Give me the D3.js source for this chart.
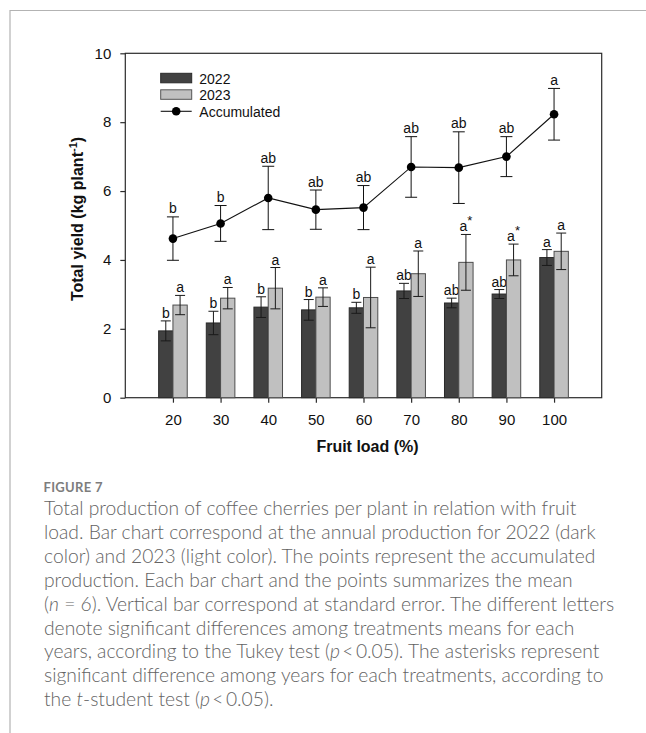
<!DOCTYPE html>
<html>
<head>
<meta charset="utf-8">
<script src="https://cdn.jsdelivr.net/npm/d3@7"></script>
<style>
  html, body { margin: 0; padding: 0; background: #fff; }
  svg { display: block; }
</style>
</head>
<body>
<script>
// Fruit load treatments (%)
const loads = [20, 30, 40, 50, 60, 70, 80, 90, 100];

// Annual yield per plant (kg) with standard errors
const yield2022 = [1.94, 2.17, 2.63, 2.55, 2.61, 3.10, 2.75, 3.01, 4.07];
const se2022    = [0.29, 0.34, 0.30, 0.30, 0.16, 0.22, 0.14, 0.13, 0.23];
const yield2023 = [2.69, 2.89, 3.18, 2.92, 2.91, 3.60, 3.93, 4.00, 4.25];
const se2023    = [0.28, 0.31, 0.60, 0.27, 0.88, 0.66, 0.81, 0.46, 0.53];

// Accumulated yield (2022 + 2023)
const accumulated = [4.62, 5.06, 5.80, 5.46, 5.52, 6.70, 6.68, 7.00, 8.23];
const seAccum     = [0.63, 0.52, 0.92, 0.57, 0.64, 0.88, 1.04, 0.58, 0.75];

// Tukey letters and t-test asterisks
const letters2022  = ["b", "b", "b", "b", "b", "ab", "ab", "ab", "a"];
const letters2023  = ["a", "a", "a", "a", "a", "a", "a", "a", "a"];
const stars2023    = [false, false, false, false, false, false, true, true, false];
const lettersAccum = ["b", "b", "ab", "ab", "ab", "ab", "ab", "ab", "a"];

const yTicks = [0, 2, 4, 6, 8, 10];
const seriesNames = ["2022", "2023", "Accumulated"];

const captionTitle = "FIGURE 7";
// Each caption line: list of [text, italic]
const captionLines = [
  [["Total production of coffee cherries per plant in relation with fruit", false]],
  [["load. Bar chart correspond at the annual production for 2022 (dark", false]],
  [["color) and 2023 (light color). The points represent the accumulated", false]],
  [["production. Each bar chart and the points summarizes the mean", false]],
  [["(", false], ["n", true], [" = 6). Vertical bar correspond at standard error. The different letters", false]],
  [["denote significant differences among treatments means for each", false]],
  [["years, according to the Tukey test (", false], ["p", true], ["\u2009<\u20090.05). The asterisks represent", false]],
  [["significant difference among years for each treatments, according to", false]],
  [["the ", false], ["t", true], ["-student test (", false], ["p", true], ["\u2009<\u20090.05).", false]]
];

const W = 646, H = 733;
const plot = { left: 125.3, right: 601.7, top: 53.3, bottom: 397.7 };
const darkFill = "#414141", lightFill = "#c0c0c0", axisColor = "#2b2b2b";
const chartFont = "'Liberation Sans', Arial, sans-serif";

const svg = d3.select("body").append("svg")
  .attr("width", W).attr("height", H)
  .attr("viewBox", `0 0 ${W} ${H}`);

svg.append("rect").attr("width", W).attr("height", H).attr("fill", "#fff");

// Page frame (top and left rule)
svg.append("line").attr("x1", 10).attr("x2", W).attr("y1", 10.5).attr("y2", 10.5)
  .attr("stroke", "#b3b3b3").attr("stroke-width", 1.2);
svg.append("line").attr("x1", 10).attr("x2", 10).attr("y1", 10).attr("y2", H)
  .attr("stroke", "#b3b3b3").attr("stroke-width", 1.2);

const x = d3.scaleLinear().domain([10, 110]).range([plot.left, plot.right]);
const y = d3.scaleLinear().domain([0, 10]).range([plot.bottom, plot.top]);
const barW = x(13) - x(10);
const inner = d3.scaleBand().domain(["2022", "2023"]).range([-barW, barW]);

const g = svg.append("g");

// Plot frame
g.append("rect")
  .attr("x", plot.left).attr("y", plot.top)
  .attr("width", plot.right - plot.left).attr("height", plot.bottom - plot.top)
  .attr("fill", "none").attr("stroke", axisColor).attr("stroke-width", 1.2);

// Axes
const yAxis = d3.axisLeft(y).tickValues(yTicks).tickSize(5).tickPadding(9).tickFormat(d3.format("d"));
const xAxis = d3.axisBottom(x).tickValues(loads).tickSize(5).tickPadding(11.5).tickFormat(d3.format("d"));

const gy = g.append("g").attr("transform", `translate(${plot.left},0)`).call(yAxis);
const gx = g.append("g").attr("transform", `translate(0,${plot.bottom})`).call(xAxis);
[gx, gy].forEach(a => {
  a.select(".domain").remove();
  a.selectAll(".tick line").attr("stroke", axisColor).attr("stroke-width", 1.2);
  a.selectAll(".tick text").attr("fill", "#111").attr("font-family", chartFont).attr("font-size", 15);
});

// Bars
const rows = loads.map((L, i) => ({
  L, i,
  bars: [
    { key: "2022", v: yield2022[i], se: se2022[i], fill: darkFill, stroke: "#2a2a2a", letter: letters2022[i], star: false },
    { key: "2023", v: yield2023[i], se: se2023[i], fill: lightFill, stroke: "#4d4d4d", letter: letters2023[i], star: stars2023[i] }
  ]
}));

const groups = g.selectAll(".grp").data(rows).join("g").attr("class", "grp")
  .attr("transform", d => `translate(${x(d.L)},0)`);

const bar = groups.selectAll(".bar").data(d => d.bars).join("g").attr("class", "bar");

bar.append("rect")
  .attr("x", b => inner(b.key))
  .attr("y", b => y(b.v))
  .attr("width", inner.bandwidth())
  .attr("height", b => y(0) - y(b.v))
  .attr("fill", b => b.fill)
  .attr("stroke", b => b.stroke).attr("stroke-width", 1);

const capHalf = 5;
bar.each(function(b) {
  const el = d3.select(this);
  const cx = inner(b.key) + inner.bandwidth() / 2;
  el.append("line").attr("x1", cx).attr("x2", cx)
    .attr("y1", y(b.v + b.se)).attr("y2", y(b.v - b.se))
    .attr("stroke", "#1a1a1a").attr("stroke-width", 1);
  [b.v + b.se, b.v - b.se].forEach(v => {
    el.append("line").attr("x1", cx - capHalf).attr("x2", cx + capHalf)
      .attr("y1", y(v)).attr("y2", y(v))
      .attr("stroke", "#1a1a1a").attr("stroke-width", 1);
  });
  const t = el.append("text")
    .attr("x", cx).attr("y", y(b.v + b.se) - 3)
    .attr("text-anchor", "middle")
    .attr("font-family", chartFont).attr("font-size", 14).attr("fill", "#111")
    .text(b.letter);
  if (b.star) {
    t.append("tspan").attr("dy", -6).attr("font-size", 13).text("*");
  }
});

// Accumulated line with error bars
const accData = loads.map((L, i) => ({ L, v: accumulated[i], se: seAccum[i], letter: lettersAccum[i] }));
const line = d3.line().x(d => x(d.L)).y(d => y(d.v));

const acc = g.append("g");
acc.selectAll(".eb").data(accData).join("g").attr("class", "eb").each(function(d) {
  const el = d3.select(this);
  const cx = x(d.L);
  el.append("line").attr("x1", cx).attr("x2", cx)
    .attr("y1", y(d.v + d.se)).attr("y2", y(d.v - d.se))
    .attr("stroke", "#111").attr("stroke-width", 1);
  [d.v + d.se, d.v - d.se].forEach(v => {
    el.append("line").attr("x1", cx - 6).attr("x2", cx + 6)
      .attr("y1", y(v)).attr("y2", y(v))
      .attr("stroke", "#111").attr("stroke-width", 1);
  });
  el.append("text")
    .attr("x", cx).attr("y", y(d.v + d.se) - 3.5)
    .attr("text-anchor", "middle")
    .attr("font-family", chartFont).attr("font-size", 14).attr("fill", "#111")
    .text(d.letter);
});
acc.append("path").datum(accData).attr("d", line)
  .attr("fill", "none").attr("stroke", "#111").attr("stroke-width", 1.1);
acc.selectAll("circle").data(accData).join("circle")
  .attr("cx", d => x(d.L)).attr("cy", d => y(d.v)).attr("r", 4.3).attr("fill", "#000");

// Legend
const lg = g.append("g").attr("transform", "translate(160.7,73.3)");
const legendRowH = 16.5;
[darkFill, lightFill].forEach((c, i) => {
  lg.append("rect").attr("x", 0).attr("y", i * legendRowH).attr("width", 31).attr("height", 9.5)
    .attr("fill", c).attr("stroke", i === 0 ? "#2a2a2a" : "#555").attr("stroke-width", 1);
});
lg.append("line").attr("x1", 0).attr("x2", 31).attr("y1", 2 * legendRowH + 5).attr("y2", 2 * legendRowH + 5)
  .attr("stroke", "#111").attr("stroke-width", 1.1);
lg.append("circle").attr("cx", 15.5).attr("cy", 2 * legendRowH + 5).attr("r", 4.3).attr("fill", "#000");
lg.selectAll(".lt").data(seriesNames).join("text").attr("class", "lt")
  .attr("x", 38.6).attr("y", (d, i) => i * legendRowH + 10.3)
  .attr("font-family", chartFont).attr("font-size", 14).attr("fill", "#111")
  .text(d => d);

// Axis titles
g.append("text")
  .attr("x", (plot.left + plot.right) / 2 + 4).attr("y", 451.7)
  .attr("text-anchor", "middle")
  .attr("font-family", chartFont).attr("font-weight", "bold").attr("font-size", 16).attr("fill", "#111")
  .text("Fruit load (%)");

const yt = g.append("text")
  .attr("transform", "translate(82.5,219) rotate(-90)")
  .attr("text-anchor", "middle")
  .attr("font-family", chartFont).attr("font-weight", "bold").attr("font-size", 16).attr("fill", "#111");
yt.append("tspan").text("Total yield (kg plant");
yt.append("tspan").attr("dy", -6).attr("font-size", 11).text("-1");
yt.append("tspan").attr("dy", 6).text(")");

// Caption
const capFont = "Lato, 'Open Sans', sans-serif";
const capX = 44;
svg.append("text")
  .attr("x", 43.5).attr("y", 491.7)
  .attr("font-family", capFont).attr("font-weight", "bold").attr("font-size", 13)
  .attr("letter-spacing", 0.3)
  .attr("fill", "#7d7d7d")
  .text(captionTitle);

const cap = svg.append("g").attr("font-family", capFont).attr("font-weight", 300).attr("fill", "#636363");
const capTexts = captionLines.map((segs, i) => {
  const t = cap.append("text").attr("x", capX).attr("y", 515 + i * 23.9).attr("font-size", 16.5);
  segs.forEach(([s, it]) => {
    t.append("tspan").attr("font-style", it ? "italic" : "normal").text(s);
  });
  return t;
});
// Fit the font size so the first caption line spans its set width
const w0 = capTexts[0].node().getComputedTextLength();
const fs = 16.5 * (532.7 / w0);
capTexts.forEach(t => t.attr("font-size", fs));
</script>
</body>
</html>
